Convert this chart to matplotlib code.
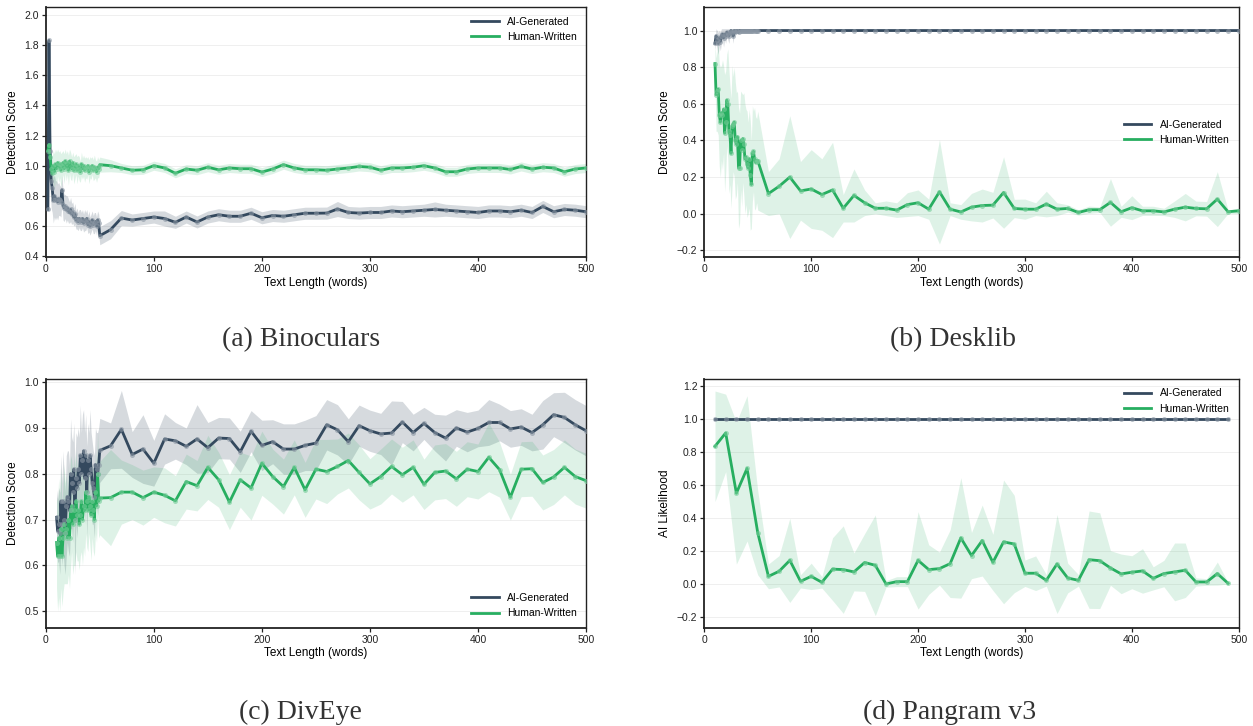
import matplotlib
matplotlib.use("Agg")
import matplotlib.pyplot as plt
import numpy as np

plt.rcParams['font.family'] = ['Liberation Sans', 'DejaVu Sans']

AI_COLOR = '#34495e'
HUMAN_COLOR = '#27ae60'
AI_DOT = '#8a96a3'
HUMAN_DOT = '#72cc97'

# ---------------- (a) Binoculars ----------------
bino_x_dense = list(range(2, 50))
bino_x_sparse = list(range(50, 501, 10))
bino_ai_dense = [0.71, 1.83, 1.10, 0.90, 0.85, 0.77, 0.80, 0.77, 0.78, 0.76, 0.78, 0.77,
                 0.76, 0.84, 0.74, 0.72, 0.73, 0.71, 0.72, 0.70, 0.69, 0.71, 0.68, 0.69,
                 0.66, 0.68, 0.64, 0.65, 0.63, 0.65, 0.64, 0.63, 0.65, 0.62, 0.64, 0.63,
                 0.65, 0.61, 0.63, 0.60, 0.62, 0.64, 0.61, 0.62, 0.63, 0.60, 0.64, 0.62]
bino_ai_dense_err = [0.02, 0.04, 0.22, 0.18, 0.16, 0.15, 0.14, 0.13, 0.12, 0.12, 0.11, 0.10,
                     0.10, 0.09, 0.10, 0.09, 0.08, 0.09, 0.08, 0.08, 0.07, 0.08, 0.07, 0.07,
                     0.06, 0.07, 0.06, 0.07, 0.06, 0.06, 0.07, 0.06, 0.06, 0.06, 0.07, 0.06,
                     0.06, 0.06, 0.07, 0.06, 0.06, 0.06, 0.06, 0.07, 0.06, 0.06, 0.06, 0.06]
bino_ai_sparse = [0.536, 0.576, 0.653, 0.64, 0.65, 0.66, 0.65, 0.625, 0.66, 0.627, 0.66,
                  0.675, 0.665, 0.665, 0.685, 0.655, 0.67, 0.665, 0.675, 0.685, 0.685,
                  0.686, 0.713, 0.69, 0.686, 0.69, 0.69, 0.70, 0.695, 0.70, 0.705, 0.71,
                  0.705, 0.70, 0.695, 0.69, 0.70, 0.70, 0.695, 0.705, 0.69, 0.73, 0.695,
                  0.71, 0.705, 0.695]
bino_ai_sparse_err = [0.06, 0.06, 0.05, 0.04, 0.04, 0.04, 0.05, 0.04, 0.04, 0.04, 0.04,
                      0.04, 0.04, 0.04, 0.04, 0.04, 0.04, 0.04, 0.04, 0.04, 0.04,
                      0.04, 0.05, 0.04, 0.04, 0.04, 0.04, 0.04, 0.04, 0.04, 0.04, 0.05,
                      0.04, 0.04, 0.04, 0.04, 0.04, 0.04, 0.04, 0.04, 0.04, 0.04, 0.04,
                      0.04, 0.04, 0.04]
bino_hu_dense = [1.10, 1.14, 1.06, 0.98, 0.95, 1.00, 0.96, 1.01, 0.98, 1.02, 0.99, 1.01,
                 0.97, 1.00, 1.02, 0.98, 1.03, 0.99, 1.02, 0.97, 1.03, 1.00, 0.98, 1.02,
                 0.97, 0.99, 1.01, 0.97, 1.00, 0.98, 0.96, 1.01, 0.98, 1.00, 0.97, 0.99,
                 0.98, 1.00, 0.96, 0.99, 0.98, 1.00, 0.97, 0.99, 0.98, 0.96, 0.99, 0.98]
bino_hu_dense_err = [0.04, 0.05, 0.08, 0.10, 0.11, 0.10, 0.12, 0.10, 0.11, 0.09, 0.10, 0.09,
                     0.11, 0.09, 0.08, 0.10, 0.08, 0.09, 0.08, 0.10, 0.08, 0.09, 0.08, 0.07,
                     0.09, 0.08, 0.07, 0.09, 0.07, 0.08, 0.07, 0.08, 0.07, 0.07, 0.08, 0.07,
                     0.07, 0.06, 0.08, 0.07, 0.07, 0.06, 0.07, 0.08, 0.06, 0.07, 0.07, 0.06]
bino_hu_sparse = [1.007, 1.0, 0.985, 0.97, 0.973, 1.0, 0.985, 0.95, 0.978, 0.97, 0.99,
                  0.973, 0.985, 0.98, 0.98, 0.958, 0.978, 1.007, 0.985, 0.973, 0.973,
                  0.97, 0.978, 0.985, 0.995, 0.99, 0.97, 0.985, 0.985, 0.99, 1.0, 0.985,
                  0.96, 0.96, 0.978, 0.985, 0.985, 0.985, 0.975, 0.995, 0.978, 0.99, 0.985,
                  0.96, 0.978, 0.985]
bino_hu_sparse_err = [0.05, 0.04, 0.03, 0.03, 0.03, 0.03, 0.03, 0.03, 0.03, 0.03, 0.03,
                      0.03, 0.03, 0.03, 0.03, 0.03, 0.03, 0.03, 0.03, 0.03, 0.03,
                      0.03, 0.03, 0.03, 0.03, 0.03, 0.03, 0.03, 0.03, 0.03, 0.03, 0.03,
                      0.03, 0.03, 0.03, 0.03, 0.03, 0.03, 0.03, 0.03, 0.03, 0.03, 0.03,
                      0.03, 0.03, 0.03]

# ---------------- (b) Desklib ----------------
desk_x_dense = list(range(10, 51))
desk_x_sparse = list(range(60, 501, 10))
desk_ai_dense = [0.93, 0.97, 0.95, 0.93, 0.96, 0.94, 0.97, 0.98, 0.96, 0.98, 0.97, 0.99,
                 0.98, 0.97, 0.99, 1.0, 0.99, 0.97, 1.0, 0.99, 1.0, 1.0, 0.99, 1.0,
                 1.0, 1.0, 1.0, 1.0, 1.0, 1.0, 1.0, 1.0, 1.0, 1.0, 1.0, 1.0,
                 1.0, 1.0, 1.0, 1.0, 1.0]
desk_ai_dense_err = [0.03, 0.04, 0.05, 0.06, 0.04, 0.05, 0.04, 0.03, 0.05, 0.03, 0.04, 0.02,
                     0.03, 0.04, 0.02, 0.01, 0.02, 0.04, 0.01, 0.02, 0.01, 0.01, 0.01, 0.005,
                     0.005, 0.005, 0.005, 0.005, 0.005, 0.005, 0.005, 0.005, 0.005, 0.005, 0.005, 0.005,
                     0.005, 0.005, 0.005, 0.005, 0.005]
desk_ai_sparse = [1.0] * 45
desk_ai_sparse_err = [0.002] * 45
desk_hu_dense = [0.82, 0.65, 0.67, 0.68, 0.54, 0.50, 0.55, 0.54, 0.57, 0.44, 0.50, 0.62,
                 0.60, 0.45, 0.43, 0.33, 0.48, 0.49, 0.50, 0.40, 0.38, 0.42, 0.25, 0.25,
                 0.40, 0.35, 0.41, 0.38, 0.30, 0.31, 0.27, 0.25, 0.30, 0.21, 0.16, 0.33,
                 0.34, 0.30, 0.28, 0.29, 0.29]
desk_hu_dense_err = [0.10, 0.20, 0.22, 0.25, 0.28, 0.30, 0.26, 0.30, 0.24, 0.32, 0.28, 0.25,
                     0.30, 0.34, 0.27, 0.30, 0.33, 0.26, 0.30, 0.32, 0.28, 0.25, 0.33, 0.30,
                     0.27, 0.31, 0.24, 0.28, 0.30, 0.26, 0.29, 0.25, 0.27, 0.30, 0.24, 0.26,
                     0.22, 0.28, 0.25, 0.23, 0.27]
desk_hu_sparse = [0.11, 0.15, 0.20, 0.125, 0.135, 0.105, 0.13, 0.03, 0.10, 0.06, 0.03,
                  0.03, 0.02, 0.05, 0.06, 0.025, 0.12, 0.025, 0.01, 0.036, 0.045, 0.047,
                  0.116, 0.029, 0.025, 0.025, 0.053, 0.025, 0.029, 0.007, 0.022, 0.022,
                  0.062, 0.011, 0.033, 0.016, 0.016, 0.01, 0.025, 0.036, 0.029, 0.027,
                  0.08, 0.011, 0.016]
desk_hu_sparse_err = [0.12, 0.15, 0.335, 0.16, 0.215, 0.195, 0.26, 0.075, 0.145, 0.07, 0.03,
                      0.04, 0.04, 0.065, 0.07, 0.055, 0.285, 0.035, 0.04, 0.075, 0.09, 0.07,
                      0.195, 0.05, 0.055, 0.035, 0.07, 0.035, 0.02, 0.015, 0.02, 0.015,
                      0.13, 0.03, 0.065, 0.025, 0.025, 0.02, 0.045, 0.075, 0.04, 0.04,
                      0.15, 0.01, 0.015]

# ---------------- (c) DivEye ----------------
div_x_dense = list(range(10, 50))
div_x_sparse = list(range(50, 501, 10))
div_ai_dense = [0.705, 0.675, 0.69, 0.67, 0.74, 0.69, 0.74, 0.70, 0.67, 0.73, 0.75, 0.74,
                0.72, 0.80, 0.78, 0.76, 0.81, 0.70, 0.79, 0.77, 0.81, 0.78, 0.84, 0.80,
                0.83, 0.85, 0.79, 0.84, 0.76, 0.83, 0.80, 0.84, 0.81, 0.78, 0.77, 0.75,
                0.82, 0.81, 0.80, 0.82]
div_ai_dense_err = [0.06, 0.07, 0.08, 0.09, 0.10, 0.09, 0.11, 0.10, 0.09, 0.11, 0.10, 0.11,
                    0.10, 0.12, 0.10, 0.11, 0.10, 0.12, 0.10, 0.11, 0.09, 0.10, 0.11, 0.09,
                    0.10, 0.09, 0.10, 0.09, 0.10, 0.08, 0.09, 0.10, 0.08, 0.09, 0.08, 0.09,
                    0.08, 0.08, 0.09, 0.08]
div_ai_sparse = [0.851, 0.861, 0.897, 0.842, 0.854, 0.823, 0.876, 0.872, 0.86, 0.876, 0.857,
                 0.878, 0.877, 0.848, 0.893, 0.862, 0.87, 0.854, 0.854, 0.862, 0.867,
                 0.907, 0.896, 0.87, 0.905, 0.894, 0.887, 0.889, 0.913, 0.89, 0.91, 0.89,
                 0.878, 0.90, 0.891, 0.899, 0.912, 0.912, 0.898, 0.902, 0.89, 0.907, 0.929,
                 0.923, 0.907, 0.894]
div_ai_sparse_err = [0.07, 0.05, 0.085, 0.05, 0.075, 0.05, 0.055, 0.04, 0.04, 0.075, 0.055,
                     0.045, 0.045, 0.045, 0.045, 0.055, 0.048, 0.055, 0.055, 0.055, 0.06,
                     0.055, 0.055, 0.05, 0.045, 0.045, 0.045, 0.07, 0.045, 0.04, 0.035, 0.04,
                     0.05, 0.04, 0.043, 0.04, 0.05, 0.04, 0.04, 0.04, 0.04, 0.053, 0.048,
                     0.055, 0.055, 0.055]
div_hu_dense = [0.65, 0.62, 0.66, 0.62, 0.68, 0.62, 0.66, 0.69, 0.67, 0.68, 0.66, 0.70,
                0.66, 0.72, 0.73, 0.69, 0.72, 0.70, 0.74, 0.71, 0.72, 0.69, 0.71, 0.74,
                0.70, 0.73, 0.72, 0.76, 0.74, 0.72, 0.75, 0.73, 0.71, 0.74, 0.72, 0.70,
                0.76, 0.73, 0.80, 0.74]
div_hu_dense_err = [0.10, 0.12, 0.13, 0.12, 0.13, 0.11, 0.12, 0.13, 0.11, 0.12, 0.10, 0.12,
                    0.11, 0.12, 0.10, 0.11, 0.12, 0.10, 0.11, 0.10, 0.11, 0.10, 0.09, 0.11,
                    0.10, 0.09, 0.10, 0.09, 0.10, 0.09, 0.08, 0.09, 0.10, 0.08, 0.09, 0.08,
                    0.09, 0.08, 0.09, 0.08]
div_hu_sparse = [0.747, 0.748, 0.76, 0.76, 0.748, 0.76, 0.753, 0.741, 0.783, 0.774, 0.814,
                 0.787, 0.738, 0.787, 0.769, 0.823, 0.794, 0.772, 0.814, 0.765, 0.81,
                 0.805, 0.816, 0.829, 0.803, 0.778, 0.794, 0.816, 0.798, 0.814, 0.777, 0.803,
                 0.806, 0.789, 0.81, 0.805, 0.836, 0.809, 0.749, 0.81, 0.811, 0.781, 0.793,
                 0.814, 0.794, 0.785]
div_hu_sparse_err = [0.08, 0.105, 0.07, 0.06, 0.06, 0.055, 0.06, 0.055, 0.06, 0.055, 0.07,
                     0.06, 0.06, 0.06, 0.07, 0.07, 0.06, 0.06, 0.06, 0.06, 0.065,
                     0.07, 0.06, 0.06, 0.06, 0.055, 0.06, 0.06, 0.06, 0.06, 0.055, 0.06,
                     0.06, 0.06, 0.06, 0.06, 0.075, 0.06, 0.05, 0.06, 0.06, 0.06, 0.06,
                     0.06, 0.06, 0.06]

# ---------------- (d) Pangram v3 ----------------
pang_x = list(range(10, 491, 10))
pang_ai = [1.0] * 49
pang_ai_err = [0.002] * 49
pang_hu = [0.834, 0.915, 0.55, 0.70, 0.31, 0.046, 0.077, 0.143, 0.016, 0.046, 0.01, 0.09,
           0.087, 0.073, 0.13, 0.113, 0.0, 0.014, 0.014, 0.143, 0.087, 0.093, 0.123, 0.279,
           0.172, 0.263, 0.131, 0.255, 0.242, 0.065, 0.065, 0.022, 0.121, 0.036, 0.022,
           0.147, 0.141, 0.097, 0.061, 0.071, 0.079, 0.034, 0.063, 0.073, 0.083, 0.012,
           0.012, 0.063, 0.004]
pang_hu_err = [0.335, 0.235, 0.43, 0.44, 0.255, 0.075, 0.095, 0.255, 0.04, 0.08, 0.035, 0.19,
               0.265, 0.115, 0.175, 0.305, 0.02, 0.03, 0.03, 0.295, 0.15, 0.10, 0.205, 0.365,
               0.14, 0.215, 0.17, 0.375, 0.295, 0.08, 0.105, 0.035, 0.30, 0.09, 0.035,
               0.295, 0.29, 0.105, 0.12, 0.10, 0.135, 0.07, 0.08, 0.175, 0.165, 0.025,
               0.02, 0.07, 0.005]


def draw_series(ax, x, y, err, color, dot, label):
    x = np.array(x)
    y = np.array(y)
    err = np.array(err)
    ax.fill_between(x, y - err, y + err, color=color, alpha=0.15 if color == HUMAN_COLOR else 0.2,
                    linewidth=0)
    ax.plot(x, y, color=color, linewidth=2.0, label=label, zorder=3)
    ax.plot(x, y, linestyle='none', marker='o', markersize=3.6, markeredgewidth=0,
            color=dot, alpha=0.6, zorder=4)


def style_axes(ax, ylabel, yticks, ylim):
    ax.set_xlim(0, 500)
    ax.set_ylim(*ylim)
    ax.set_xticks([0, 100, 200, 300, 400, 500])
    ax.set_yticks(yticks)
    ax.set_yticklabels([f"{t:.1f}".replace('-', '\u2212') for t in yticks])
    ax.grid(axis='y', color='#ececec', linewidth=0.6)
    ax.set_axisbelow(True)
    for s in ax.spines.values():
        s.set_color('#222222')
        s.set_linewidth(1.0)
    ax.spines['left'].set_linewidth(1.3)
    ax.spines['bottom'].set_linewidth(1.3)
    ax.tick_params(labelsize=7.5, length=3, width=0.9, colors='#222222', pad=2)
    ax.set_xlabel('Text Length (words)', fontsize=8.5, labelpad=2)
    ax.set_ylabel(ylabel, fontsize=8.5, labelpad=4)


fig = plt.figure(figsize=(12.53, 7.26), dpi=100)
ax_a = fig.add_axes([0.0365, 0.646, 0.4312, 0.344])
ax_b = fig.add_axes([0.5621, 0.646, 0.4265, 0.344])
ax_c = fig.add_axes([0.0365, 0.1354, 0.4312, 0.3426])
ax_d = fig.add_axes([0.5621, 0.1354, 0.4265, 0.3426])

# (a)
draw_series(ax_a, bino_x_dense + bino_x_sparse, bino_ai_dense + bino_ai_sparse,
            bino_ai_dense_err + bino_ai_sparse_err, AI_COLOR, AI_DOT, 'AI-Generated')
draw_series(ax_a, bino_x_dense + bino_x_sparse, bino_hu_dense + bino_hu_sparse,
            bino_hu_dense_err + bino_hu_sparse_err, HUMAN_COLOR, HUMAN_DOT, 'Human-Written')
style_axes(ax_a, 'Detection Score', [0.4, 0.6, 0.8, 1.0, 1.2, 1.4, 1.6, 1.8, 2.0], (0.395, 2.05))
ax_a.legend(loc='upper right', frameon=False, fontsize=7.5, handlelength=2.6)

# (b)
draw_series(ax_b, desk_x_dense + desk_x_sparse, desk_ai_dense + desk_ai_sparse,
            desk_ai_dense_err + desk_ai_sparse_err, AI_COLOR, AI_DOT, 'AI-Generated')
draw_series(ax_b, desk_x_dense + desk_x_sparse, desk_hu_dense + desk_hu_sparse,
            desk_hu_dense_err + desk_hu_sparse_err, HUMAN_COLOR, HUMAN_DOT, 'Human-Written')
style_axes(ax_b, 'Detection Score', [-0.2, 0.0, 0.2, 0.4, 0.6, 0.8, 1.0], (-0.236, 1.127))
ax_b.legend(loc='center right', frameon=False, fontsize=7.5, handlelength=2.6)

# (c)
draw_series(ax_c, div_x_dense + div_x_sparse, div_ai_dense + div_ai_sparse,
            div_ai_dense_err + div_ai_sparse_err, AI_COLOR, AI_DOT, 'AI-Generated')
draw_series(ax_c, div_x_dense + div_x_sparse, div_hu_dense + div_hu_sparse,
            div_hu_dense_err + div_hu_sparse_err, HUMAN_COLOR, HUMAN_DOT, 'Human-Written')
style_axes(ax_c, 'Detection Score', [0.5, 0.6, 0.7, 0.8, 0.9, 1.0], (0.464, 1.007))
ax_c.legend(loc='lower right', frameon=False, fontsize=7.5, handlelength=2.6)

# (d)
draw_series(ax_d, pang_x, pang_ai, pang_ai_err, AI_COLOR, AI_DOT, 'AI-Generated')
draw_series(ax_d, pang_x, pang_hu, pang_hu_err, HUMAN_COLOR, HUMAN_DOT, 'Human-Written')
style_axes(ax_d, 'AI Likelihood', [-0.2, 0.0, 0.2, 0.4, 0.6, 0.8, 1.0, 1.2], (-0.265, 1.242))
ax_d.legend(loc='upper right', frameon=False, fontsize=7.5, handlelength=2.6)

cap_font = dict(family='Liberation Serif', fontsize=20, color='#333333', ha='center', va='center')
fig.text(0.240, 0.532, '(a) Binoculars', **cap_font)
fig.text(0.7606, 0.532, '(b) Desklib', **cap_font)
fig.text(0.240, 0.019, '(c) DivEye', **cap_font)
fig.text(0.758, 0.019, '(d) Pangram v3', **cap_font)

fig.savefig('out.png', dpi=100)
